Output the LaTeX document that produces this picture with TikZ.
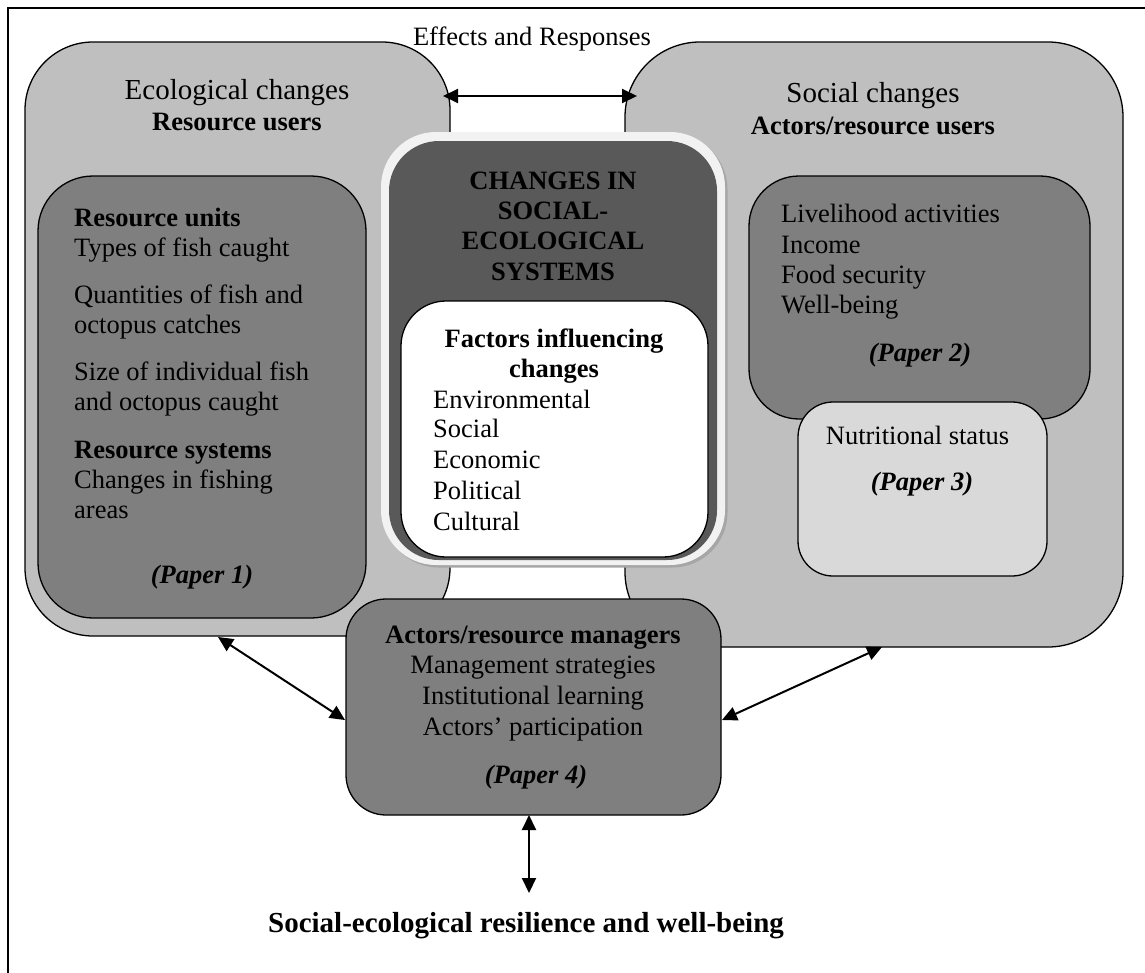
\documentclass[tikz,border=0pt]{standalone}
\usepackage{fontspec}
\setmainfont{Liberation Serif}
\usetikzlibrary{arrows.meta}
\definecolor{lgray}{HTML}{BFBFBF}
\definecolor{mgray}{HTML}{7F7F7F}
\definecolor{dgray}{HTML}{595959}
\definecolor{pgray}{HTML}{D9D9D9}
\definecolor{rimc}{HTML}{F2F2F2}
\definecolor{shc}{HTML}{A6A6A6}
\newcommand\fsB{\fontsize{26.5}{30}\selectfont}
\newcommand\fsH{\fontsize{29}{32}\selectfont}
\begin{document}
\begin{tikzpicture}[x=1pt,y=-1pt,
  box/.style={draw=black, line width=1.3pt, inner sep=0pt, rectangle},
  tl/.style={inner sep=0pt, anchor=base west, font=\fsB},
  tc/.style={inner sep=0pt, anchor=base, font=\fsB},
  arr/.style={line width=2pt, {Triangle[length=15pt,width=14pt]}-{Triangle[length=15pt,width=14pt]}}]
\useasboundingbox (0,0) rectangle (1145,972);
\fill[white] (0,0) rectangle (1145,972);
% frame (right and bottom edges fall outside the picture)
\draw[line width=1.2pt] (8,990) -- (8,8) -- (1160,8);

% big boxes
\node[box, fill=lgray, rounded corners=68pt, minimum width=425pt, minimum height=594pt] (eco) at (237.5,339) {};
\node[box, fill=lgray, rounded corners=75pt, minimum width=498pt, minimum height=605pt] (soc) at (874,344.5) {};
% inner boxes
\node[box, fill=mgray, rounded corners=55pt, minimum width=328pt, minimum height=442pt] (ecoin) at (202,397) {};
\node[box, fill=mgray, rounded corners=50pt, minimum width=341pt, minimum height=243pt] (socin) at (919.5,297.5) {};
\node[box, fill=pgray, rounded corners=35pt, minimum width=249pt, minimum height=174pt] (nut) at (922.5,489) {};
% central box
\node[inner sep=0pt, fill=shc, rounded corners=55pt, minimum width=344pt, minimum height=433pt] (rimsh) at (555.5,351) {};
\node[inner sep=0pt, fill=rimc, rounded corners=55pt, minimum width=344pt, minimum height=433pt] (rim) at (553,348.5) {};
\node[inner sep=0pt, fill=dgray, rounded corners=50pt, minimum width=328pt, minimum height=419pt] (dark) at (553,350.5) {};
\node[box, fill=white, rounded corners=45pt, minimum width=307pt, minimum height=256pt] (fac) at (554.5,429) {};
% managers box
\node[box, fill=mgray, rounded corners=40pt, minimum width=375pt, minimum height=216pt] (mgr) at (533.5,707) {};

% arrow end points
\coordinate (tA) at (443,96);
\coordinate (tB) at (637,96);
\coordinate (lA) at (218,637);
\coordinate (lB) at (345,720);
\coordinate (rA) at (722,720);
\coordinate (rB) at (882,647);
\coordinate (bA) at (529,815);
\coordinate (bB) at (529,893);
\draw[arr] (tA) -- (tB);
\draw[arr] (lA) -- (lB);
\draw[arr] (rA) -- (rB);
\draw[arr] (bA) -- (bB);

% texts
\node[tc] (eff) at (532,45) {Effects and Responses};
\node[tc, font=\fsH] (ecot) at (237,99) {Ecological changes};
\node[tc] (ecou) at (237,130) {\textbf{Resource users}};
\node[tc, font=\fsH] (soct) at (873,102) {Social changes};
\node[tc] (socu) at (873,134) {\textbf{Actors/resource users}};

\node[tl] (e1) at (74,226) {\textbf{Resource units}};
\node[tl] (e2) at (74,256) {Types of fish caught};
\node[tl] (e3) at (74,303) {Quantities of fish and};
\node[tl] (e4) at (74,333) {octopus catches};
\node[tl] (e5) at (74,380) {Size of individual fish};
\node[tl] (e6) at (74,410) {and octopus caught};
\node[tl] (e7) at (74,458) {\textbf{Resource systems}};
\node[tl] (e8) at (74,488) {Changes in fishing};
\node[tl] (e9) at (74,518) {areas};
\node[tc] (p1) at (202,583) {\textbf{\textit{(Paper 1)}}};

\node[tc] (c1) at (553,189) {\textbf{CHANGES IN}};
\node[tc] (c2) at (553,219) {\textbf{SOCIAL-}};
\node[tc] (c3) at (553,249) {\textbf{ECOLOGICAL}};
\node[tc] (c4) at (553,280) {\textbf{SYSTEMS}};
\node[tc] (f1) at (554,347) {\textbf{Factors influencing}};
\node[tc] (f2) at (554,377) {\textbf{changes}};
\node[tl] (f3) at (433,408) {Environmental};
\node[tl] (f4) at (433,437) {Social};
\node[tl] (f5) at (433,468) {Economic};
\node[tl] (f6) at (433,499) {Political};
\node[tl] (f7) at (433,530) {Cultural};

\node[tl] (s1) at (781,222) {Livelihood activities};
\node[tl] (s2) at (781,253) {Income};
\node[tl] (s3) at (781,283) {Food security};
\node[tl] (s4) at (781,313) {Well-being};
\node[tc] (p2) at (920,361) {\textbf{\textit{(Paper 2)}}};
\node[tc] (n1) at (917.5,444) {Nutritional status};
\node[tc] (p3) at (922,490) {\textbf{\textit{(Paper 3)}}};

\node[tc] (m1) at (533,643) {\textbf{Actors/resource managers}};
\node[tc] (m2) at (533,673) {Management strategies};
\node[tc] (m3) at (533,704) {Institutional learning};
\node[tc] (m4) at (533,735) {Actors’ participation};
\node[tc] (p4) at (536,783) {\textbf{\textit{(Paper 4)}}};

\node[tc, font=\fsH] (res) at (526,932) {\textbf{Social-ecological resilience and well-being}};
\end{tikzpicture}
\end{document}
